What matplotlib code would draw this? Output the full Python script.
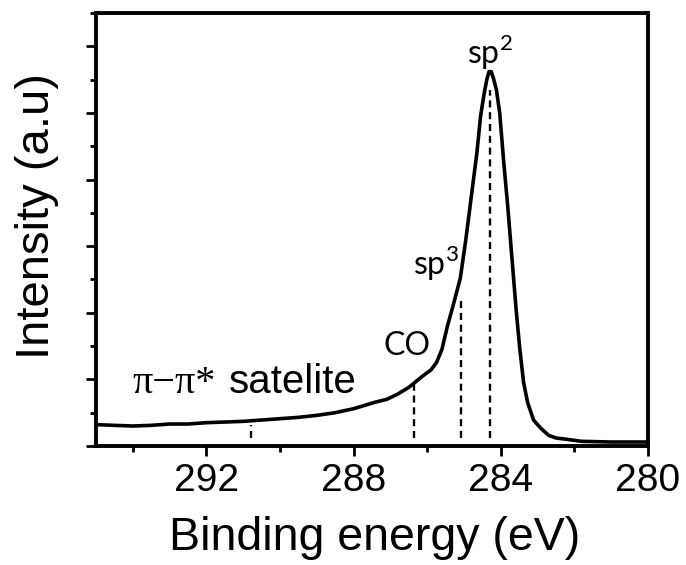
import matplotlib
matplotlib.use("Agg")
import matplotlib.pyplot as plt
from matplotlib.ticker import MultipleLocator, NullFormatter

# C 1s spectrum (binding energy in eV, intensity in arbitrary units)
binding_energy = [
    294.95, 294.5, 294.0, 293.5, 293.0, 292.5, 292.0, 291.5, 291.0, 290.5,
    290.0, 289.5, 289.0, 288.5, 288.0, 287.7, 287.4, 287.1, 286.8, 286.5,
    286.3, 286.1, 285.9, 285.75, 285.6, 285.45, 285.3, 285.1, 284.95, 284.8,
    284.65, 284.55, 284.45, 284.38, 284.32, 284.26, 284.2, 284.12, 284.03, 283.92,
    283.81, 283.70, 283.59, 283.49, 283.38, 283.27, 283.11, 282.92, 282.7, 282.5,
    282.2, 281.8, 281.0, 280.5, 280.0,
]
intensity = [
    0.32, 0.31, 0.30, 0.31, 0.33, 0.33, 0.35, 0.36, 0.37, 0.39,
    0.41, 0.43, 0.46, 0.50, 0.56, 0.61, 0.66, 0.70, 0.78, 0.88,
    0.97, 1.06, 1.14, 1.25, 1.45, 1.80, 2.10, 2.52, 3.10, 3.75,
    4.40, 4.95, 5.30, 5.50, 5.62, 5.62, 5.52, 5.35, 5.00, 4.26,
    3.59, 2.84, 2.09, 1.49, 0.95, 0.65, 0.39, 0.27, 0.16, 0.12,
    0.10, 0.07, 0.06, 0.06, 0.06,
]

# Component positions marked with dashed drop lines
component_energy = [290.8, 286.35, 285.08, 284.3]
component_top = [0.32, 0.95, 2.24, 5.35]
drop_bottom = 0.12

x_ticks = [292, 288, 284, 280]

plt.rcParams["mathtext.fontset"] = "custom"
plt.rcParams["mathtext.rm"] = "Lato"

fig = plt.figure(figsize=(6.86, 5.65), dpi=100)
fig.patch.set_facecolor("white")
ax = fig.add_axes([96 / 686, (565 - 446) / 565, (648 - 96) / 686, (446 - 13) / 565])

ax.plot(binding_energy, intensity, color="black", lw=2.6, solid_joinstyle="round")

for e, top in zip(component_energy, component_top):
    ax.plot([e, e], [drop_bottom, top], color="black", lw=1.7,
            linestyle=(0, (3.0, 2.0)))

ax.set_xlim(295, 280)
ax.set_ylim(0, 6.5)

ax.set_xticks(x_ticks)
ax.set_xticklabels([str(t) for t in x_ticks])
ax.xaxis.set_minor_locator(MultipleLocator(2))
ax.yaxis.set_major_locator(MultipleLocator(1))
ax.yaxis.set_minor_locator(MultipleLocator(0.5))
ax.yaxis.set_major_formatter(NullFormatter())

for s in ax.spines.values():
    s.set_linewidth(2.8)

ax.tick_params(axis="both", which="major", direction="out", length=7, width=2,
               labelsize=28, pad=5)
ax.tick_params(axis="both", which="minor", direction="out", length=4, width=2)
for lab in ax.get_xticklabels():
    lab.set_fontfamily("Liberation Sans")

ax.set_xlabel("Binding energy (eV)", fontsize=33.5, family="Liberation Sans")
ax.xaxis.label.set_va("baseline")
ax.xaxis.set_label_coords(0.504, -0.240)

ax.set_ylabel("Intensity (a.u)", fontsize=34, family="Liberation Sans")
ax.yaxis.label.set_va("center")
ax.yaxis.set_label_coords(-0.107, 0.531)

# Peak annotations
ax.text(294.0, 0.80, "\u03c0\u2212\u03c0*", fontsize=29, family="Liberation Serif",
        ha="left", va="baseline")
ax.text(291.38, 0.80, "satelite", fontsize=29, family="Liberation Sans",
        ha="left", va="baseline")
ax.text(286.54, 1.37, "CO", fontsize=23, family="Lato", ha="center", va="baseline")
ax.text(286.38, 2.57, "sp$^\\mathregular{3}$", fontsize=23, family="Lato",
        ha="left", va="baseline")
ax.text(284.92, 5.73, "sp$^\\mathregular{2}$", fontsize=23, family="Lato",
        ha="left", va="baseline")

fig.savefig("out.png", dpi=100, facecolor="white")
